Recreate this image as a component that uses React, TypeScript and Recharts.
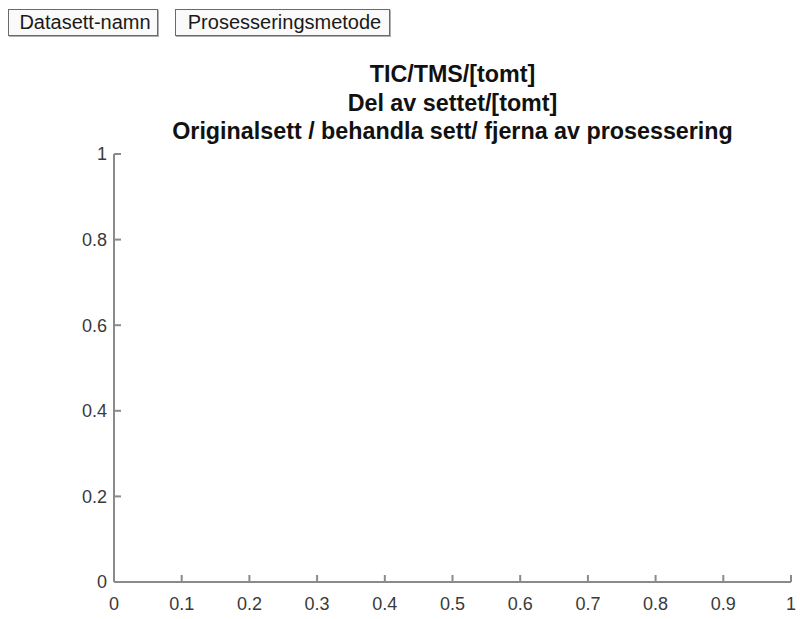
import { ScatterChart, Scatter, XAxis, YAxis } from 'recharts';

// Empty MATLAB-style axes: no data has been loaded yet
const xTicks: number[] = [0, 0.1, 0.2, 0.3, 0.4, 0.5, 0.6, 0.7, 0.8, 0.9, 1];
const yTicks: number[] = [0, 0.2, 0.4, 0.6, 0.8, 1];
const points: { x: number; y: number }[] = [];

const titleLines: string[] = [
  'TIC/TMS/[tomt]',
  'Del av settet/[tomt]',
  'Originalsett / behandla sett/ fjerna av prosessering',
];
const buttons = [
  { label: 'Datasett-namn', left: 8, width: 150 },
  { label: 'Prosesseringsmetode', left: 175, width: 215 },
];

const font = '"Liberation Sans", Arial, sans-serif';
const axisColor = '#8a8a8a';
const tickStyle = { fontSize: 18, fill: '#3a3a3a', fontFamily: font };

export default function App() {
  return (
    <div
      style={{
        position: 'absolute',
        left: 0,
        top: 0,
        width: 800,
        height: 619,
        background: '#fff',
        fontFamily: font,
      }}
    >
      {buttons.map((b) => (
        <div
          key={b.label}
          style={{
            position: 'absolute',
            left: b.left,
            top: 9,
            width: b.width,
            height: 27,
            boxSizing: 'border-box',
            border: '1px solid #6a6a6a',
            boxShadow: '1px 1px 0 #b0b0b0',
            background: '#fafafa',
            fontSize: 20,
            lineHeight: '25px',
            paddingLeft: 4,
            textAlign: 'center',
            color: '#1a1a1a',
          }}
        >
          {b.label}
        </div>
      ))}

      <div
        style={{
          position: 'absolute',
          left: 104,
          width: 697,
          top: 60,
          textAlign: 'center',
          fontWeight: 'bold',
          fontSize: 23.3,
          lineHeight: '28.5px',
          color: '#111',
          whiteSpace: 'nowrap',
        }}
      >
        {titleLines.map((t) => (
          <div key={t}>{t}</div>
        ))}
      </div>

      <div style={{ position: 'absolute', left: 0, top: 0 }}>
        <ScatterChart
          width={800}
          height={619}
          margin={{ top: 154, right: 9, bottom: 7, left: 54 }}
        >
          <XAxis
            type="number"
            dataKey="x"
            domain={[0, 1]}
            allowDataOverflow
            ticks={xTicks}
            interval={0}
            height={30}
            tickSize={-7}
            tickMargin={22}
            stroke={axisColor}
            strokeWidth={2}
            tick={tickStyle}
            tickFormatter={(v: number) => String(v)}
          />
          <YAxis
            type="number"
            dataKey="y"
            domain={[0, 1]}
            allowDataOverflow
            ticks={yTicks}
            interval={0}
            width={60}
            tickSize={-7}
            tickMargin={14}
            stroke={axisColor}
            strokeWidth={2}
            tick={tickStyle}
            tickFormatter={(v: number) => String(v)}
          />
          <Scatter data={points} fill="#0072bd" isAnimationActive={false} />
        </ScatterChart>
      </div>
    </div>
  );
}
